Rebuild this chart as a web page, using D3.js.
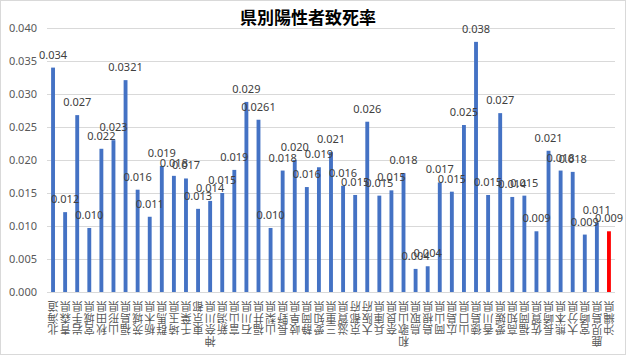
<!DOCTYPE html>
<html>
<head>
<meta charset="utf-8">
<script src="https://cdn.jsdelivr.net/npm/d3@7"></script>
<style>
  html, body { margin: 0; padding: 0; background: #fff; }
  svg { display: block; }
</style>
</head>
<body>
<svg id="chart" width="630" height="357"></svg>
<script>
const title = "県別陽性者致死率";
const prefectures = ["北海道","青森県","岩手県","宮城県","秋田県","山形県","福島県","茨城県","栃木県","群馬県",
  "埼玉県","千葉県","東京都","神奈川県","新潟県","富山県","石川県","福井県","山梨県","長野県",
  "岐阜県","静岡県","愛知県","三重県","滋賀県","京都府","大阪府","兵庫県","奈良県","和歌山県",
  "鳥取県","島根県","岡山県","広島県","山口県","徳島県","香川県","愛媛県","高知県","福岡県",
  "佐賀県","長崎県","熊本県","大分県","宮崎県","鹿児島県","沖縄県"];
const fatality = [0.0340,0.0121,0.0268,0.0097,0.0217,0.0230,0.0321,0.0155,0.0114,0.0191,
  0.0176,0.0172,0.0126,0.0138,0.0150,0.0185,0.0288,0.0261,0.0097,0.0184,
  0.0200,0.0159,0.0189,0.0212,0.0161,0.0147,0.0258,0.0146,0.0154,0.0180,
  0.0035,0.0039,0.0166,0.0152,0.0253,0.0379,0.0147,0.0271,0.0144,0.0146,
  0.0092,0.0214,0.0184,0.0182,0.0087,0.0105,0.0092];
const valueLabels = ["0.034","0.012","0.027","0.010","0.022","0.023","0.0321","0.016","0.011","0.019",
  "0.018","0.017","0.013","0.014","0.015","0.019","0.029","0.0261","0.010","0.018",
  "0.020","0.016","0.019","0.021","0.016","0.015","0.026","0.015","0.015","0.018",
  "0.004","0.004","0.017","0.015","0.025","0.038","0.015","0.027","0.014","0.015",
  "0.009","0.021","0.018","0.018","0.009","0.011","0.009"];
const highlighted = ["沖縄県"];
const yTicks = [0, 0.005, 0.010, 0.015, 0.020, 0.025, 0.030, 0.035, 0.040];

const svg = d3.select("#chart");
const numFont = "'Noto Sans', 'Liberation Sans', sans-serif";
const cjkFont = "'Noto Sans CJK JP', sans-serif";

// chart area border
svg.append("rect").attr("x", 0.5).attr("y", 0.5).attr("width", 625).attr("height", 354)
  .attr("fill", "#fff").attr("stroke", "#d9d9d9");

const plotLeft = 47, plotRight = 615, plotTop = 28, plotBottom = 292;
const x = d3.scaleBand().domain(prefectures).range([plotLeft, plotRight]).paddingInner(0.68).paddingOuter(0.34);
const y = d3.scaleLinear().domain([0, 0.04]).range([plotBottom, plotTop]);

// gridlines + y axis
const yAxis = d3.axisLeft(y).tickValues(yTicks).tickFormat(d3.format(".3f"))
  .tickSize(-(plotRight - plotLeft)).tickPadding(10);
const gy = svg.append("g").attr("transform", `translate(${plotLeft},0)`).call(yAxis);
gy.select(".domain").remove();
gy.selectAll(".tick line").attr("stroke", "#d9d9d9").attr("stroke-width", 1);
gy.selectAll(".tick text").attr("fill", "#595959").attr("font-size", "11px").attr("font-family", numFont);

// bars
svg.append("g").selectAll("rect").data(prefectures).join("rect")
  .attr("x", d => x(d))
  .attr("width", x.bandwidth())
  .attr("y", (d, i) => y(fatality[i]))
  .attr("height", (d, i) => y(0) - y(fatality[i]))
  .attr("fill", d => highlighted.includes(d) ? "#ff0000" : "#4472c4");

// data labels
svg.append("g").selectAll("text").data(prefectures).join("text")
  .attr("x", d => x(d) + x.bandwidth() / 2)
  .attr("y", (d, i) => y(fatality[i]) - 9)
  .attr("text-anchor", "middle")
  .attr("font-size", "11px").attr("font-family", numFont)
  .attr("fill", "#404040")
  .text((d, i) => valueLabels[i]);

// category labels: vertical stacked, rotated 180°
const pitch = 11.5, labelTop = 307;
const gx = svg.append("g");
prefectures.forEach(name => {
  const cx = x(name) + x.bandwidth() / 2;
  const chars = name.split("").reverse();
  chars.forEach((ch, j) => {
    const cy = labelTop + j * pitch;
    gx.append("text")
      .attr("x", cx).attr("y", cy)
      .attr("text-anchor", "middle").attr("dominant-baseline", "central")
      .attr("transform", `rotate(180,${cx},${cy})`)
      .attr("font-size", "11px").attr("font-family", cjkFont)
      .attr("fill", "#595959")
      .text(ch);
  });
});

// title
svg.append("text").attr("x", 308).attr("y", 24).attr("text-anchor", "middle")
  .attr("font-size", "17px").attr("font-weight", "bold").attr("font-family", cjkFont)
  .attr("fill", "#000").text(title);
</script>
</body>
</html>
